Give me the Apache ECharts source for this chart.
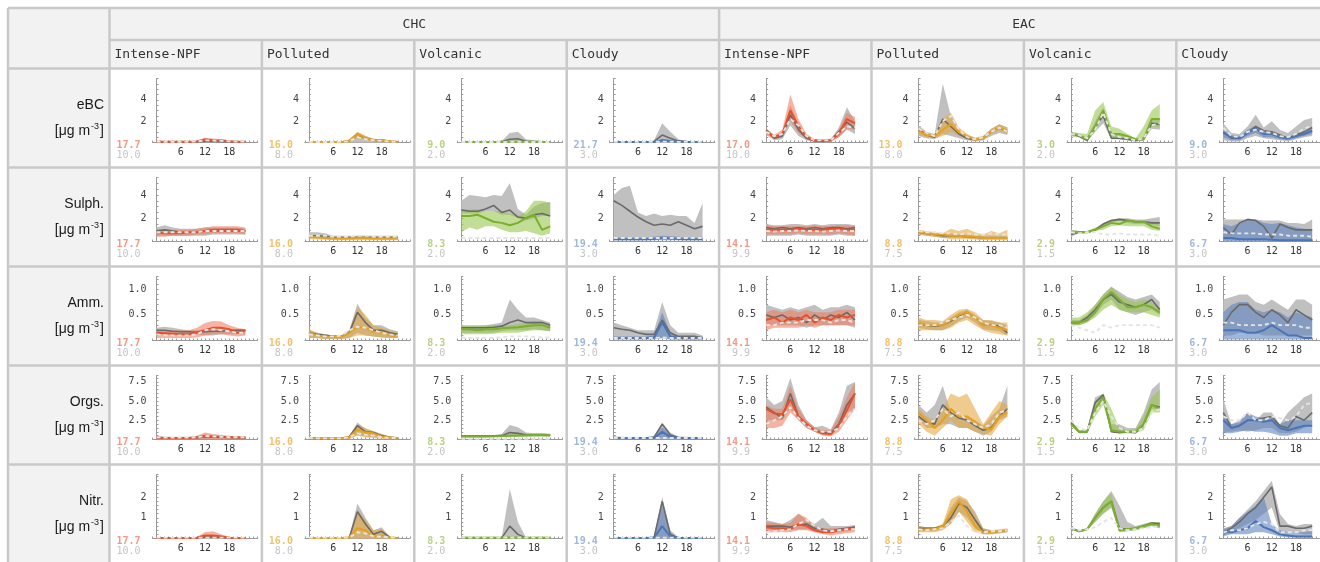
<!DOCTYPE html>
<html><head><meta charset="utf-8">
<script src="https://cdn.jsdelivr.net/npm/echarts/dist/echarts.min.js"></script>
<style>html,body{margin:0;padding:0;background:#fff}#c{width:1320px;height:562px}</style>
</head><body><div id="c"></div>
<script>
// ---------------- data ----------------
const hours = [0,2,4,6,8,10,12,14,16,18,20,22];
const regions = ['CHC','EAC'];
const regimes = ['Intense-NPF','Polluted','Volcanic','Cloudy'];
const species = ['eBC','Sulph.','Amm.','Orgs.','Nitr.'];
const yMax = [6,5.5,1.25,8.33,3.1];
const yTick = [0.5,0.5,0.1,0.5,0.2];
const yLabels = [[2,4],[2,4],[0.5,1.0],[2.5,5.0,7.5],[1,2]];
const yDigits = [0,0,1,1,0];
const xLabels = [6,12,18];
const nColored = [
 [17.7,16.0,9.0,21.7,17.0,13.0,3.0,9.0],
 [17.7,16.0,8.3,19.4,14.1,8.8,2.9,6.7],
 [17.7,16.0,8.3,19.4,14.1,8.8,2.9,6.7],
 [17.7,16.0,8.3,19.4,14.1,8.8,2.9,6.7],
 [17.7,16.0,8.3,19.4,14.1,8.8,2.9,6.7]];
const nGray = [
 [10.0,8.0,2.0,3.0,10.0,8.0,2.0,3.0],
 [10.0,8.0,2.0,3.0,9.9,7.5,1.5,3.0],
 [10.0,8.0,2.0,3.0,9.9,7.5,1.5,3.0],
 [10.0,8.0,2.0,3.0,9.9,7.5,1.5,3.0],
 [10.0,8.0,2.0,3.0,9.9,7.5,1.5,3.0]];

// each cell: gray band (gLo,gHi), gray line g, coloured band (cLo,cHi), coloured line c, dashed d
const eBC = [
 {gLo:[0,0,0,0,0,0,0,0,0,0,0,0], gHi:[0.12,0.1,0.1,0.1,0.1,0.12,0.2,0.18,0.15,0.12,0.12,0.1], g:[0.06,0.05,0.05,0.05,0.05,0.06,0.1,0.09,0.08,0.06,0.06,0.05],
  cLo:[0.02,0.02,0.02,0.02,0.02,0.03,0.08,0.06,0.05,0.04,0.03,0.02], cHi:[0.12,0.1,0.1,0.1,0.12,0.18,0.45,0.38,0.3,0.22,0.15,0.12], c:[0.07,0.06,0.06,0.06,0.07,0.1,0.28,0.22,0.18,0.12,0.09,0.07], d:[0.08,0.07,0.07,0.07,0.08,0.1,0.2,0.18,0.15,0.12,0.1,0.08]},
 {gLo:[0,0,0,0,0,0,0,0,0,0,0,0], gHi:[0.1,0.08,0.06,0.06,0.08,0.25,0.95,0.6,0.35,0.3,0.2,0.12], g:[0.05,0.04,0.03,0.03,0.04,0.15,0.75,0.4,0.2,0.2,0.12,0.06],
  cLo:[0.02,0.02,0.02,0.02,0.02,0.05,0.4,0.2,0.1,0.08,0.05,0.02], cHi:[0.1,0.08,0.06,0.06,0.08,0.3,1.0,0.6,0.35,0.3,0.2,0.1], c:[0.05,0.04,0.04,0.04,0.05,0.15,0.8,0.4,0.22,0.2,0.12,0.06], d:[0.06,0.05,0.05,0.05,0.06,0.12,0.5,0.3,0.2,0.15,0.1,0.06]},
 {gLo:[0,0,0,0,0,0,0,0,0,0,0,0], gHi:[0.1,0.1,0.1,0.1,0.1,0.15,0.9,1.0,0.3,0.2,0.15,0.1], g:[0.05,0.05,0.05,0.05,0.05,0.08,0.3,0.35,0.12,0.08,0.06,0.05],
  cLo:[0.01,0.01,0.01,0.01,0.01,0.01,0.01,0.01,0.01,0.01,0.01,0.01], cHi:[0.1,0.08,0.08,0.08,0.08,0.1,0.15,0.15,0.12,0.1,0.1,0.1], c:[0.05,0.05,0.05,0.05,0.05,0.06,0.08,0.08,0.07,0.06,0.05,0.05], d:[0.05,0.05,0.05,0.05,0.05,0.05,0.06,0.06,0.05,0.05,0.05,0.05]},
 {gLo:[0,0,0,0,0,0,0,0,0,0,0,0], gHi:[0.08,0.06,0.06,0.06,0.06,0.2,1.8,1.0,0.3,0.15,0.1,0.08], g:[0.04,0.03,0.03,0.03,0.03,0.1,0.7,0.4,0.15,0.08,0.05,0.04],
  cLo:[0.01,0.01,0.01,0.01,0.01,0.01,0.02,0.02,0.01,0.01,0.01,0.01], cHi:[0.1,0.08,0.08,0.08,0.08,0.1,0.35,0.25,0.15,0.1,0.1,0.1], c:[0.05,0.04,0.04,0.04,0.04,0.05,0.2,0.12,0.08,0.05,0.05,0.05], d:[0.06,0.06,0.06,0.06,0.06,0.06,0.08,0.08,0.06,0.06,0.06,0.06]},
 {gLo:[0.7,0.2,0.3,1.6,0.6,0.2,0.05,0.05,0.1,0.5,1.2,0.8], gHi:[1.3,0.7,0.9,3.5,1.8,0.7,0.3,0.25,0.3,1.4,3.3,2.0], g:[1.2,0.4,0.6,2.6,1.2,0.4,0.15,0.1,0.2,1.0,1.9,1.3],
  cLo:[0.8,0.3,0.5,2.0,0.9,0.3,0.1,0.05,0.1,0.5,1.3,1.2], cHi:[1.3,0.7,1.2,4.5,2.2,0.8,0.3,0.3,0.35,1.2,2.8,2.4], c:[1.1,0.5,0.8,3.0,1.5,0.5,0.2,0.15,0.2,0.8,2.2,1.8], d:[1.0,0.6,0.8,2.2,1.6,0.6,0.2,0.2,0.2,0.9,1.5,1.4]},
 {gLo:[0.6,0.4,0.3,0.8,0.6,0.4,0.2,0.1,0.2,0.6,0.9,0.7], gHi:[1.6,1.0,0.8,5.5,2.5,1.2,0.7,0.4,0.6,1.3,1.7,1.4], g:[1.2,0.7,0.5,2.2,1.5,0.8,0.4,0.25,0.4,1.0,1.4,1.0],
  cLo:[0.7,0.5,0.4,0.6,1.0,0.6,0.3,0.15,0.25,0.8,1.1,0.8], cHi:[1.4,0.9,0.8,2.2,2.8,1.4,0.8,0.45,0.6,1.3,1.7,1.4], c:[1.1,0.7,0.6,1.2,1.7,1.0,0.6,0.3,0.4,1.0,1.4,1.1], d:[1.3,0.9,0.6,2.0,2.5,1.2,0.5,0.3,0.5,1.0,1.4,1.0]},
 {gLo:[0.6,0.5,0.1,1.0,1.8,0.3,0.3,0.2,0.1,0.2,1.3,1.2], gHi:[0.9,0.8,0.5,2.0,3.3,0.8,0.8,0.5,0.3,0.5,2.3,2.2], g:[0.8,0.6,0.2,1.5,2.5,0.4,0.4,0.3,0.2,0.3,1.8,1.7],
  cLo:[0.6,0.5,0.1,1.0,2.5,0.4,0.3,0.2,0.1,0.2,1.5,1.4], cHi:[1.0,0.9,0.8,3.0,3.8,1.5,1.3,0.8,0.4,1.5,3.0,3.6], c:[0.8,0.7,0.3,1.5,3.0,0.8,0.8,0.6,0.3,0.3,2.2,2.2], d:[0.8,0.7,0.4,1.2,2.8,0.8,0.5,0.4,0.2,0.4,1.6,1.8]},
 {gLo:[0.2,0.1,0.1,0.4,0.6,0.4,0.3,0.2,0.1,0.3,0.5,0.6], gHi:[1.8,0.9,0.8,1.5,2.6,1.4,2.0,1.2,0.9,1.5,2.1,2.3], g:[1.0,0.4,0.4,0.9,1.5,1.1,1.0,0.7,0.4,0.7,1.0,1.4],
  cLo:[0.5,0.2,0.2,0.6,0.9,0.5,0.5,0.3,0.2,0.4,0.6,0.8], cHi:[1.1,0.7,0.6,1.2,1.6,1.1,1.0,0.7,0.5,0.8,1.0,1.3], c:[0.9,0.5,0.4,0.9,1.3,0.8,0.8,0.5,0.4,0.6,0.8,1.1], d:[1.4,0.6,0.5,1.0,1.2,1.0,0.9,0.6,0.5,0.8,1.3,1.6]}
];
const Sulph = [
 {gLo:[0.5,0.5,0.5,0.5,0.5,0.5,0.5,0.6,0.6,0.6,0.6,0.6], gHi:[1.2,1.4,1.2,1.1,1.1,1.1,1.2,1.2,1.2,1.2,1.2,1.1], g:[0.9,1.0,0.9,0.8,0.8,0.8,0.9,0.9,0.9,0.9,0.9,0.9],
  cLo:[0.4,0.4,0.5,0.5,0.5,0.6,0.6,0.7,0.7,0.7,0.7,0.6], cHi:[1.1,1.0,1.0,1.0,1.0,1.1,1.2,1.3,1.3,1.3,1.3,1.2], c:[0.8,0.7,0.7,0.7,0.8,0.8,0.9,1.0,1.0,1.0,1.0,0.9], d:[0.8,0.8,0.8,0.8,0.8,0.8,0.9,0.9,0.9,0.9,0.9,0.9]},
 {gLo:[0.3,0.3,0.25,0.2,0.2,0.2,0.2,0.2,0.2,0.2,0.2,0.2], gHi:[0.8,0.8,0.7,0.5,0.5,0.5,0.5,0.5,0.5,0.5,0.5,0.5], g:[0.5,0.5,0.45,0.35,0.35,0.35,0.35,0.35,0.35,0.35,0.35,0.35],
  cLo:[0.2,0.2,0.15,0.1,0.1,0.1,0.1,0.1,0.1,0.1,0.1,0.1], cHi:[0.6,0.5,0.5,0.4,0.4,0.4,0.5,0.5,0.4,0.4,0.4,0.4], c:[0.4,0.35,0.3,0.25,0.25,0.25,0.3,0.3,0.25,0.25,0.25,0.25], d:[0.5,0.5,0.5,0.4,0.4,0.4,0.5,0.5,0.4,0.4,0.4,0.4]},
 {gLo:[2.4,2.4,2.4,2.6,2.6,2.3,2.3,2.0,1.8,2.0,2.2,2.2], gHi:[3.5,4.0,3.9,3.8,4.0,3.9,5.0,2.8,2.3,3.0,3.3,3.4], g:[2.7,2.6,2.6,2.8,3.1,2.5,2.7,2.1,2.0,2.3,2.4,2.2],
  cLo:[0.8,1.2,1.0,1.3,1.3,1.0,0.8,0.8,0.9,0.7,0.5,0.7], cHi:[2.8,2.8,2.8,2.6,2.6,2.6,2.4,2.2,2.6,3.5,3.5,3.3], c:[2.2,2.2,2.3,2.0,1.7,1.6,1.4,1.6,2.0,2.3,1.0,1.3], d:[0.3,0.3,0.3,0.3,0.3,0.3,0.3,0.3,0.3,0.3,0.3,0.3]},
 {gLo:[0.3,0.3,0.3,0.3,0.3,0.3,0.3,0.3,0.3,0.3,0.3,0.3], gHi:[4.0,4.6,4.8,2.5,2.2,2.4,2.2,2.3,2.2,2.2,1.6,3.3], g:[3.5,3.1,2.6,2.1,1.7,1.4,1.5,1.4,1.7,1.4,1.1,1.3],
  cLo:[0.1,0.1,0.1,0.1,0.1,0.1,0.1,0.1,0.1,0.1,0.1,0.1], cHi:[0.35,0.35,0.35,0.35,0.35,0.4,0.5,0.45,0.4,0.35,0.35,0.35], c:[0.2,0.2,0.2,0.2,0.2,0.22,0.3,0.25,0.22,0.2,0.2,0.2], d:[0.3,0.3,0.3,0.3,0.3,0.3,0.3,0.3,0.3,0.3,0.3,0.3]},
 {gLo:[0.5,0.5,0.5,0.5,0.6,0.5,0.5,0.5,0.5,0.6,0.5,0.5], gHi:[1.5,1.4,1.4,1.5,1.5,1.4,1.5,1.4,1.5,1.5,1.5,1.4], g:[1.2,1.1,1.2,1.1,1.2,1.1,1.2,1.1,1.2,1.2,1.1,1.2],
  cLo:[0.6,0.6,0.6,0.6,0.7,0.6,0.6,0.6,0.6,0.7,0.6,0.5], cHi:[1.4,1.3,1.3,1.3,1.3,1.3,1.4,1.3,1.3,1.4,1.4,1.3], c:[1.0,1.0,1.0,1.0,1.1,1.0,1.0,1.0,1.1,1.1,1.0,1.0], d:[0.9,0.85,0.9,0.9,0.95,0.9,0.9,0.85,0.9,0.95,0.9,0.9]},
 {gLo:[0.6,0.5,0.4,0.3,0.3,0.3,0.3,0.2,0.2,0.2,0.2,0.2], gHi:[0.9,0.8,0.7,0.6,0.7,0.6,0.6,0.5,0.5,0.5,0.5,0.5], g:[0.8,0.7,0.6,0.5,0.5,0.5,0.4,0.4,0.3,0.3,0.3,0.3],
  cLo:[0.6,0.5,0.4,0.3,0.2,0.2,0.2,0.2,0.1,0.1,0.1,0.1], cHi:[1.0,0.9,0.8,0.7,1.1,0.9,1.1,0.8,0.6,0.9,0.7,1.0], c:[0.8,0.7,0.6,0.6,0.5,0.5,0.4,0.4,0.3,0.3,0.3,0.3], d:[0.9,0.8,0.8,0.7,0.7,0.6,0.7,0.6,0.6,0.7,0.6,0.6]},
 {gLo:[0.4,0.7,0.7,0.9,1.4,1.6,1.8,1.6,1.5,1.5,1.4,1.3], gHi:[1.0,0.9,0.9,1.1,1.6,1.9,2.0,2.0,1.9,1.9,2.0,2.1], g:[0.6,0.8,0.8,1.0,1.5,1.8,1.9,1.8,1.7,1.7,1.6,1.6],
  cLo:[0.6,0.7,0.7,0.9,1.0,1.3,1.4,1.3,1.3,1.3,1.0,0.9], cHi:[1.0,0.9,0.9,1.2,1.5,1.8,1.9,1.9,1.8,1.8,1.7,1.6], c:[0.8,0.8,0.8,1.0,1.3,1.6,1.5,1.8,1.7,1.7,1.3,1.1], d:[0.8,0.7,0.8,0.8,0.6,0.6,0.7,0.6,0.6,0.6,0.6,0.5]},
 {gLo:[0.1,0.1,0.1,0.1,0.1,0.1,0.1,0.1,0.1,0.1,0.1,0.1], gHi:[1.9,1.9,1.9,1.9,1.9,1.8,1.8,1.8,1.6,1.6,1.5,1.9], g:[1.2,0.6,1.6,1.9,1.8,1.3,0.3,1.5,1.2,1.0,1.0,1.0],
  cLo:[0.05,0.05,0.05,0.05,0.05,0.05,0.05,0.05,0.05,0.05,0.05,0.05], cHi:[1.5,1.3,1.6,1.9,1.9,1.6,1.5,1.6,1.4,1.2,1.1,1.0], c:[0.3,0.3,0.2,0.2,0.2,0.2,0.15,0.1,0.1,0.1,0.1,0.1], d:[0.8,0.7,0.7,0.7,0.7,0.6,0.6,0.6,0.5,0.5,0.5,0.4]}
];
const Amm = [
 {gLo:[0.12,0.12,0.12,0.12,0.12,0.12,0.1,0.1,0.12,0.12,0.12,0.12], gHi:[0.25,0.27,0.25,0.22,0.2,0.2,0.22,0.22,0.2,0.22,0.22,0.22], g:[0.2,0.2,0.18,0.17,0.17,0.16,0.17,0.18,0.18,0.2,0.2,0.2],
  cLo:[0.05,0.05,0.05,0.05,0.05,0.06,0.1,0.12,0.12,0.1,0.08,0.1], cHi:[0.2,0.2,0.2,0.2,0.2,0.25,0.34,0.38,0.37,0.3,0.25,0.22], c:[0.15,0.14,0.13,0.12,0.12,0.15,0.2,0.25,0.25,0.22,0.15,0.2], d:[0.12,0.1,0.1,0.1,0.1,0.12,0.2,0.22,0.2,0.18,0.15,0.15]},
 {gLo:[0.05,0.05,0.03,0.03,0.03,0.05,0.15,0.1,0.08,0.06,0.05,0.05], gHi:[0.2,0.15,0.12,0.1,0.1,0.2,0.72,0.45,0.3,0.3,0.22,0.18], g:[0.15,0.12,0.1,0.08,0.08,0.15,0.55,0.35,0.2,0.2,0.15,0.12],
  cLo:[0.05,0.05,0.03,0.03,0.03,0.05,0.1,0.1,0.08,0.06,0.05,0.05], cHi:[0.22,0.15,0.12,0.1,0.1,0.2,0.65,0.5,0.3,0.25,0.2,0.15], c:[0.15,0.1,0.08,0.07,0.07,0.15,0.27,0.25,0.17,0.15,0.1,0.08], d:[0.12,0.1,0.08,0.08,0.1,0.2,0.27,0.25,0.2,0.15,0.12,0.1]},
 {gLo:[0.15,0.15,0.15,0.15,0.15,0.18,0.2,0.2,0.2,0.22,0.2,0.18], gHi:[0.3,0.3,0.3,0.3,0.32,0.35,0.8,0.6,0.45,0.45,0.4,0.35], g:[0.25,0.25,0.25,0.25,0.26,0.28,0.35,0.4,0.35,0.35,0.35,0.3],
  cLo:[0.12,0.12,0.12,0.12,0.13,0.15,0.15,0.15,0.18,0.2,0.2,0.18], cHi:[0.28,0.28,0.28,0.3,0.3,0.3,0.3,0.32,0.35,0.38,0.38,0.3], c:[0.22,0.22,0.2,0.22,0.22,0.24,0.25,0.26,0.28,0.3,0.3,0.25], d:[0.06,0.05,0.05,0.05,0.05,0.06,0.08,0.08,0.08,0.07,0.06,0.06]},
 {gLo:[0.05,0.05,0.04,0.03,0.03,0.03,0.05,0.03,0.02,0.02,0.02,0.02], gHi:[0.35,0.3,0.25,0.2,0.2,0.2,0.75,0.3,0.15,0.15,0.15,0.1], g:[0.25,0.22,0.2,0.15,0.12,0.12,0.4,0.15,0.08,0.08,0.08,0.05],
  cLo:[0.02,0.02,0.02,0.02,0.02,0.02,0.05,0.02,0.02,0.02,0.02,0.02], cHi:[0.08,0.08,0.08,0.08,0.08,0.1,0.55,0.15,0.08,0.08,0.08,0.08], c:[0.05,0.05,0.05,0.05,0.05,0.06,0.35,0.08,0.05,0.05,0.05,0.05], d:[0.05,0.05,0.05,0.05,0.05,0.05,0.06,0.05,0.05,0.05,0.05,0.05]},
 {gLo:[0.3,0.3,0.3,0.3,0.3,0.25,0.3,0.3,0.3,0.3,0.3,0.25], gHi:[0.7,0.65,0.6,0.65,0.6,0.65,0.7,0.6,0.65,0.65,0.7,0.65], g:[0.5,0.45,0.5,0.4,0.45,0.35,0.5,0.4,0.5,0.45,0.55,0.4],
  cLo:[0.2,0.25,0.25,0.25,0.25,0.3,0.25,0.3,0.3,0.3,0.3,0.3], cHi:[0.55,0.6,0.55,0.6,0.55,0.6,0.55,0.55,0.55,0.6,0.6,0.6], c:[0.4,0.45,0.35,0.45,0.4,0.5,0.35,0.45,0.4,0.5,0.45,0.5], d:[0.3,0.3,0.35,0.35,0.35,0.4,0.4,0.4,0.35,0.4,0.4,0.35]},
 {gLo:[0.25,0.22,0.2,0.2,0.28,0.38,0.45,0.35,0.22,0.2,0.18,0.1], gHi:[0.4,0.38,0.35,0.35,0.45,0.55,0.6,0.5,0.4,0.38,0.35,0.3], g:[0.32,0.3,0.28,0.3,0.38,0.48,0.55,0.45,0.3,0.3,0.28,0.15],
  cLo:[0.2,0.2,0.2,0.2,0.25,0.35,0.4,0.3,0.2,0.15,0.12,0.1], cHi:[0.45,0.4,0.4,0.38,0.5,0.6,0.62,0.55,0.4,0.4,0.35,0.35], c:[0.35,0.3,0.3,0.3,0.4,0.5,0.55,0.45,0.3,0.3,0.25,0.2], d:[0.3,0.3,0.3,0.35,0.4,0.45,0.5,0.45,0.35,0.3,0.3,0.25]},
 {gLo:[0.3,0.3,0.35,0.5,0.7,0.8,0.6,0.55,0.5,0.55,0.6,0.5], gHi:[0.4,0.4,0.5,0.7,0.9,1.05,0.95,0.85,0.8,0.85,0.9,0.75], g:[0.35,0.35,0.45,0.6,0.8,0.9,0.75,0.7,0.65,0.7,0.8,0.6],
  cLo:[0.3,0.3,0.35,0.45,0.6,0.7,0.6,0.55,0.55,0.55,0.5,0.45], cHi:[0.45,0.45,0.55,0.7,0.9,1.05,0.9,0.8,0.75,0.8,0.75,0.65], c:[0.35,0.35,0.4,0.55,0.8,0.95,0.8,0.65,0.65,0.7,0.65,0.55], d:[0.3,0.25,0.2,0.15,0.3,0.25,0.3,0.3,0.3,0.3,0.3,0.25]},
 {gLo:[0.1,0.1,0.15,0.15,0.15,0.1,0.1,0.1,0.1,0.1,0.1,0.1], gHi:[0.8,0.85,0.9,0.9,0.75,0.7,0.8,0.7,0.6,0.8,0.8,0.7], g:[0.3,0.55,0.7,0.7,0.55,0.45,0.6,0.5,0.35,0.6,0.5,0.4],
  cLo:[0.02,0.02,0.02,0.02,0.02,0.02,0.02,0.02,0.02,0.02,0.02,0.02], cHi:[0.55,0.7,0.75,0.75,0.6,0.55,0.6,0.55,0.45,0.55,0.5,0.45], c:[0.2,0.2,0.2,0.15,0.15,0.2,0.3,0.2,0.1,0.1,0.05,0.05], d:[0.35,0.35,0.3,0.3,0.3,0.3,0.35,0.3,0.3,0.3,0.25,0.25]}
];
const Orgs = [
 {gLo:[0.1,0.1,0.1,0.1,0.1,0.1,0.1,0.1,0.1,0.1,0.1,0.1], gHi:[0.4,0.35,0.35,0.35,0.35,0.4,0.6,0.5,0.45,0.4,0.4,0.4], g:[0.25,0.22,0.22,0.22,0.22,0.25,0.35,0.3,0.3,0.28,0.25,0.25],
  cLo:[0.05,0.05,0.05,0.05,0.05,0.05,0.05,0.05,0.05,0.05,0.05,0.05], cHi:[0.4,0.3,0.3,0.3,0.3,0.5,0.9,0.7,0.6,0.5,0.4,0.4], c:[0.25,0.2,0.2,0.2,0.2,0.3,0.5,0.4,0.35,0.3,0.25,0.25], d:[0.3,0.25,0.25,0.25,0.25,0.3,0.45,0.4,0.35,0.3,0.3,0.3]},
 {gLo:[0.05,0.05,0.05,0.05,0.05,0.1,0.6,0.4,0.3,0.2,0.1,0.05], gHi:[0.3,0.2,0.2,0.2,0.2,0.5,2.2,1.4,1.1,0.7,0.4,0.3], g:[0.2,0.15,0.15,0.15,0.15,0.35,1.8,1.0,0.9,0.5,0.3,0.2],
  cLo:[0.05,0.05,0.05,0.05,0.05,0.05,0.5,0.3,0.2,0.1,0.05,0.05], cHi:[0.3,0.2,0.2,0.2,0.2,0.5,2.0,1.5,1.0,0.7,0.4,0.3], c:[0.2,0.15,0.15,0.15,0.15,0.3,1.3,0.9,0.8,0.4,0.25,0.2], d:[0.2,0.15,0.15,0.15,0.15,0.3,0.8,0.6,0.5,0.3,0.2,0.2]},
 {gLo:[0.3,0.3,0.3,0.3,0.3,0.35,0.4,0.4,0.4,0.4,0.4,0.4], gHi:[0.6,0.6,0.6,0.6,0.6,0.7,1.9,1.6,0.9,0.8,0.8,0.7], g:[0.45,0.45,0.45,0.45,0.45,0.5,0.9,0.8,0.6,0.6,0.6,0.55],
  cLo:[0.25,0.25,0.25,0.25,0.3,0.3,0.3,0.35,0.35,0.4,0.4,0.35], cHi:[0.55,0.55,0.55,0.55,0.55,0.6,0.65,0.7,0.75,0.8,0.8,0.75], c:[0.4,0.4,0.4,0.4,0.42,0.45,0.5,0.52,0.55,0.6,0.6,0.55], d:[0.1,0.1,0.1,0.1,0.1,0.1,0.1,0.1,0.1,0.1,0.1,0.1]},
 {gLo:[0.1,0.1,0.1,0.1,0.1,0.1,0.3,0.15,0.1,0.1,0.1,0.1], gHi:[0.4,0.35,0.3,0.3,0.3,0.5,2.2,0.9,0.4,0.35,0.3,0.3], g:[0.25,0.2,0.2,0.2,0.2,0.3,2.0,0.6,0.25,0.2,0.2,0.2],
  cLo:[0.05,0.05,0.05,0.05,0.05,0.05,0.05,0.05,0.05,0.05,0.05,0.05], cHi:[0.3,0.3,0.3,0.3,0.3,0.4,1.6,0.6,0.3,0.3,0.3,0.3], c:[0.2,0.15,0.15,0.15,0.15,0.2,1.0,0.35,0.2,0.15,0.15,0.15], d:[0.2,0.2,0.2,0.2,0.2,0.2,0.2,0.2,0.2,0.2,0.2,0.2]},
 {gLo:[2.5,2.5,2.5,4.0,2.5,1.5,1.0,0.6,0.5,1.5,3.5,4.0], gHi:[5.5,4.5,5.0,8.0,4.5,2.5,1.6,1.8,1.3,3.5,7.0,7.5], g:[4.2,3.5,2.8,6.0,3.0,2.0,1.2,0.9,0.8,2.0,4.5,6.0],
  cLo:[1.5,1.5,1.8,3.5,2.5,1.5,1.0,0.5,0.4,1.0,2.5,4.0], cHi:[4.5,4.0,4.0,7.0,4.0,2.5,1.6,1.2,1.2,3.0,5.5,7.5], c:[4.0,3.4,3.3,5.2,3.0,2.0,1.2,0.8,0.7,1.8,3.8,6.0], d:[2.0,2.5,3.0,4.2,2.8,1.8,1.2,1.0,1.0,1.5,3.0,4.0]},
 {gLo:[2.5,1.5,1.5,2.0,2.0,1.5,1.5,1.0,0.5,1.0,2.5,3.0], gHi:[4.5,3.5,4.5,7.0,3.5,3.0,3.0,2.5,1.8,3.0,4.0,7.0], g:[3.0,2.2,2.0,4.5,3.5,2.8,2.5,1.8,1.2,1.5,3.0,4.0],
  cLo:[2.0,1.0,0.5,1.5,2.5,1.5,1.5,1.0,0.7,0.5,2.0,3.0], cHi:[4.0,3.0,2.5,4.0,6.0,5.5,6.0,4.0,2.0,3.5,5.0,4.5], c:[3.5,2.5,1.5,2.5,4.0,3.0,3.0,2.3,1.5,1.3,3.0,3.5], d:[2.5,2.0,2.5,4.0,3.0,3.5,2.5,2.0,1.5,2.0,3.5,3.8]},
 {gLo:[2.0,0.8,0.8,3.5,5.0,1.0,0.8,0.8,0.8,1.5,4.0,3.8], gHi:[2.5,1.2,1.2,5.5,6.0,2.0,2.0,1.5,1.5,3.5,6.5,7.5], g:[2.2,1.0,1.0,4.8,5.8,1.0,0.9,1.0,0.9,2.0,4.5,4.2],
  cLo:[1.8,0.8,0.8,3.0,4.5,1.0,0.8,0.8,0.8,1.2,3.5,3.5], cHi:[2.5,1.2,1.2,5.0,6.0,4.0,1.5,1.2,1.3,3.0,5.5,6.5], c:[2.0,1.0,1.0,4.0,5.5,1.2,1.0,1.0,1.0,2.0,4.5,4.0], d:[2.5,1.5,1.2,3.5,5.0,3.0,1.5,1.0,1.0,1.5,3.5,4.0]},
 {gLo:[1.0,1.0,1.2,1.0,1.2,1.5,1.5,0.8,0.8,1.0,1.5,2.0], gHi:[5.2,2.0,2.5,3.5,2.5,3.5,3.5,2.0,3.5,4.5,5.5,6.0], g:[3.5,1.5,1.8,2.5,2.5,2.8,3.0,1.8,1.5,3.0,2.5,3.5],
  cLo:[0.8,0.8,1.0,1.2,1.0,1.0,0.8,0.5,0.5,0.8,0.8,0.8], cHi:[3.2,2.0,2.2,3.5,3.0,2.8,2.8,2.0,2.5,2.5,2.5,2.5], c:[2.5,1.5,1.8,2.5,2.5,2.3,2.5,1.5,1.2,1.5,1.8,1.8], d:[3.0,2.5,2.5,3.5,2.5,2.5,3.0,2.8,2.5,3.0,4.5,4.8]}
];
const Nitr = [
 {gLo:[0,0,0,0,0,0,0,0,0,0,0,0], gHi:[0.06,0.05,0.05,0.05,0.05,0.06,0.15,0.15,0.1,0.06,0.05,0.05], g:[0.03,0.03,0.03,0.03,0.03,0.03,0.08,0.08,0.05,0.03,0.03,0.03],
  cLo:[0.01,0.01,0.01,0.01,0.01,0.01,0.01,0.01,0.01,0.01,0.01,0.01], cHi:[0.06,0.05,0.05,0.05,0.05,0.08,0.3,0.35,0.2,0.08,0.06,0.05], c:[0.03,0.03,0.03,0.03,0.03,0.04,0.15,0.15,0.1,0.04,0.03,0.03], d:[0.04,0.04,0.04,0.04,0.04,0.04,0.04,0.04,0.04,0.04,0.04,0.04]},
 {gLo:[0,0,0,0,0,0,0,0,0,0,0,0], gHi:[0.05,0.05,0.05,0.05,0.05,0.1,1.7,1.0,0.4,0.55,0.1,0.05], g:[0.03,0.03,0.03,0.03,0.03,0.05,1.3,0.7,0.2,0.35,0.05,0.03],
  cLo:[0,0,0,0,0,0,0,0,0,0,0,0], cHi:[0.05,0.05,0.05,0.05,0.05,0.1,1.4,0.9,0.4,0.45,0.1,0.05], c:[0.03,0.03,0.03,0.03,0.03,0.05,0.5,0.4,0.1,0.15,0.05,0.03], d:[0.04,0.04,0.04,0.04,0.04,0.05,0.3,0.25,0.1,0.1,0.05,0.04]},
 {gLo:[0,0,0,0,0,0,0,0,0,0,0,0], gHi:[0.05,0.05,0.05,0.05,0.05,0.05,2.4,0.8,0.05,0.05,0.05,0.05], g:[0.03,0.03,0.03,0.03,0.03,0.03,0.6,0.2,0.03,0.03,0.03,0.03],
  cLo:[0.01,0.01,0.01,0.01,0.01,0.01,0.01,0.01,0.01,0.01,0.01,0.01], cHi:[0.08,0.08,0.08,0.08,0.08,0.08,0.1,0.1,0.08,0.08,0.08,0.08], c:[0.04,0.04,0.04,0.04,0.04,0.04,0.05,0.05,0.04,0.04,0.04,0.04], d:[0.05,0.05,0.05,0.05,0.05,0.05,0.05,0.05,0.05,0.05,0.05,0.05]},
 {gLo:[0,0,0,0,0,0,0,0,0,0,0,0], gHi:[0.05,0.05,0.05,0.05,0.05,0.1,2.0,0.4,0.05,0.05,0.05,0.05], g:[0.03,0.03,0.03,0.03,0.03,0.05,1.8,0.2,0.03,0.03,0.03,0.03],
  cLo:[0,0,0,0,0,0,0,0,0,0,0,0], cHi:[0.05,0.05,0.05,0.05,0.05,0.1,1.6,0.3,0.05,0.05,0.05,0.05], c:[0.02,0.02,0.02,0.02,0.02,0.05,0.6,0.1,0.02,0.02,0.02,0.02], d:[0.04,0.04,0.04,0.04,0.04,0.04,0.04,0.04,0.04,0.04,0.04,0.04]},
 {gLo:[0.4,0.4,0.4,0.4,0.45,0.45,0.35,0.3,0.25,0.3,0.35,0.4], gHi:[0.9,0.8,0.7,0.9,1.2,0.9,0.7,1.0,0.6,0.6,0.6,0.65], g:[0.6,0.6,0.6,0.55,0.65,0.7,0.5,0.45,0.35,0.45,0.5,0.55],
  cLo:[0.3,0.3,0.3,0.3,0.4,0.4,0.3,0.2,0.15,0.2,0.25,0.3], cHi:[0.8,0.75,0.7,0.75,1.2,1.0,0.6,0.5,0.5,0.5,0.55,0.6], c:[0.55,0.5,0.5,0.45,0.7,0.6,0.4,0.3,0.3,0.4,0.45,0.5], d:[0.3,0.35,0.4,0.45,0.7,0.9,0.6,0.4,0.35,0.4,0.45,0.45]},
 {gLo:[0.35,0.35,0.35,0.45,0.7,1.3,1.0,0.5,0.2,0.2,0.25,0.3], gHi:[0.6,0.55,0.55,0.65,1.5,2.0,1.8,1.3,0.5,0.4,0.4,0.45], g:[0.5,0.5,0.5,0.6,1.0,1.7,1.5,0.9,0.35,0.3,0.35,0.4],
  cLo:[0.3,0.3,0.3,0.4,0.7,1.3,0.8,0.3,0.2,0.2,0.25,0.3], cHi:[0.6,0.55,0.55,0.7,1.9,2.1,1.9,1.2,0.5,0.4,0.45,0.5], c:[0.4,0.45,0.45,0.6,1.2,1.8,1.3,0.6,0.3,0.3,0.35,0.4], d:[0.45,0.4,0.45,0.5,0.8,1.1,0.6,0.3,0.3,0.35,0.35,0.4]},
 {gLo:[0.45,0.3,0.4,0.8,1.2,1.5,0.3,0.35,0.4,0.5,0.6,0.5], gHi:[0.55,0.4,0.5,1.2,1.8,2.3,1.6,0.8,0.6,0.7,0.8,0.8], g:[0.5,0.35,0.45,1.0,1.5,1.8,0.5,0.45,0.5,0.6,0.75,0.7],
  cLo:[0.45,0.3,0.4,0.8,1.2,1.5,0.35,0.35,0.4,0.5,0.6,0.5], cHi:[0.55,0.4,0.5,1.2,1.8,2.2,0.5,0.5,0.55,0.7,0.8,0.8], c:[0.5,0.35,0.45,1.0,1.5,1.8,0.4,0.45,0.5,0.6,0.7,0.6], d:[0.5,0.4,0.45,0.55,0.8,1.0,0.5,0.4,0.45,0.5,0.55,0.6]},
 {gLo:[0.2,0.3,0.5,0.7,0.9,1.2,1.5,0.3,0.3,0.3,0.2,0.2], gHi:[0.5,0.6,1.0,1.4,1.8,2.3,2.8,1.2,0.7,0.6,0.7,0.7], g:[0.3,0.5,0.8,1.2,1.5,2.0,2.5,0.6,0.6,0.5,0.5,0.6],
  cLo:[0.1,0.2,0.2,0.2,0.3,0.3,0.2,0.1,0.05,0.05,0.05,0.05], cHi:[0.45,0.6,1.0,1.3,1.6,2.0,0.7,0.4,0.3,0.3,0.3,0.4], c:[0.3,0.3,0.4,0.5,0.85,0.55,0.4,0.2,0.15,0.1,0.1,0.1], d:[0.3,0.4,0.4,0.5,0.7,0.8,0.7,0.3,0.3,0.3,0.4,0.4]}
];
const tableRows = [eBC, Sulph, Amm, Orgs, Nitr];

// ---------------- styling ----------------
const lineColor = ['#e8502c','#e6a11c','#7aae2e','#4a74b6'];
const bandColor = ['#ef7c5e','#e3a53c','#94c44a','#5a82bf'];
const numColor  = ['#f39a85','#f3c169','#b7d283','#9fb7dd'];
const MONO = '"DejaVu Sans Mono", monospace';
const SANS = '"Liberation Sans", Arial, sans-serif';
const CL = 109.5, CW = 152.4, RT = 68.5, RH = 99, BORDER = '#c9c9c9';

const grids = [], xAxes = [], yAxes = [], series = [], graphic = [];
const pts = arr => hours.map((h, i) => [h, arr[i]]);
const near = (v, list) => list.some(t => Math.abs(v - t) < 1e-6);

// a band drawn as one polygon through the axes' scales
function bandSeries(k, lo, hi, fill, opacity) {
  return {type: 'custom', xAxisIndex: k, yAxisIndex: k, silent: true, animation: false,
    data: pts(hi), encode: {x: 0, y: 1},
    renderItem: (params, api) => {
      if (params.dataIndex !== 0) return null;
      const top = hours.map((h, i) => api.coord([h, hi[i]]));
      const bot = hours.map((h, i) => api.coord([h, lo[i]])).reverse();
      return {type: 'polygon', shape: {points: top.concat(bot)}, style: {fill: fill, opacity: opacity, stroke: null}};
    }};
}

tableRows.forEach((cells, r) => {
  cells.forEach((cell, ci) => {
    const k = grids.length;
    const reg = ci % 4;
    const cx = CL + ci * CW, ry = RT + r * RH;
    grids.push({left: cx + 43, top: ry + 10, width: 105, height: 64, outerBoundsMode: 'none', containLabel: false});
    xAxes.push({type: 'value', gridIndex: k, min: -1, max: 25, interval: 1,
      axisLine: {lineStyle: {color: '#9a9a9a', width: 1}},
      axisTick: {show: true, inside: true, length: 2, lineStyle: {color: '#9a9a9a'}},
      splitLine: {show: false},
      axisLabel: {margin: 5, fontFamily: MONO, fontSize: 10, color: '#333',
        formatter: v => near(v, xLabels) ? String(Math.round(v)) : ''}});
    yAxes.push({type: 'value', gridIndex: k, min: 0, max: yMax[r], interval: yTick[r],
      axisLine: {show: true, lineStyle: {color: '#9a9a9a', width: 1}},
      axisTick: {show: true, inside: true, length: 2, lineStyle: {color: '#9a9a9a'}},
      splitLine: {show: false},
      axisLabel: {margin: 6, fontFamily: MONO, fontSize: 10, color: '#444',
        formatter: v => near(v, yLabels[r]) ? v.toFixed(yDigits[r]) : ''}});
    const common = {type: 'line', xAxisIndex: k, yAxisIndex: k, symbol: 'none', silent: true, animation: false};
    series.push(bandSeries(k, cell.gLo, cell.gHi, '#c0c0c0', 1));
    series.push(Object.assign({}, common, {data: pts(cell.g), lineStyle: {color: '#6a6a6a', width: 1.6}}));
    series.push(bandSeries(k, cell.cLo, cell.cHi, bandColor[reg], 0.58));
    series.push(Object.assign({}, common, {data: pts(cell.c), lineStyle: {color: lineColor[reg], width: 2}}));
    series.push(Object.assign({}, common, {data: pts(cell.d), lineStyle: {color: '#e4e4e4', width: 1.9, type: [4, 3]}}));
    graphic.push({type: 'text', x: cx + 31, y: ry + 77, style: {text: nColored[r][ci].toFixed(1), fontFamily: MONO, fontSize: 10, fontWeight: 'bold',
      fill: numColor[reg], align: 'right', verticalAlign: 'middle'}});
    graphic.push({type: 'text', x: cx + 31, y: ry + 87, style: {text: nGray[r][ci].toFixed(1), fontFamily: MONO, fontSize: 10,
      fill: '#c4c4c4', align: 'right', verticalAlign: 'middle'}});
  });
});

// table backgrounds and borders
graphic.unshift({type: 'rect', shape: {x: 8, y: 8, width: 1320, height: 60.5}, style: {fill: '#f2f2f2'}, z: -5});
graphic.unshift({type: 'rect', shape: {x: 8, y: 68.5, width: 101.5, height: 500}, style: {fill: '#f2f2f2'}, z: -5});
const hl = (x1, y1, x2, y2) => graphic.push({type: 'line', shape: {x1, y1, x2, y2}, style: {stroke: BORDER, lineWidth: 2.5}, z: 60});
hl(8, 8, 1330, 8);
hl(109.5, 40, 1330, 40);
for (let r = 0; r <= 5; r++) hl(8, RT + r * RH, 1330, RT + r * RH);
hl(8, 8, 8, 570);
hl(109.5, 8, 109.5, 570);
for (let i = 1; i < 8; i++) hl(CL + i * CW, i === 4 ? 8 : 40, CL + i * CW, 570);
regions.forEach((t, i) => graphic.push({type: 'text', x: CL + (i * 4 + 2) * CW, y: 24.5,
  style: {text: t, fontFamily: MONO, fontSize: 13, fill: '#333', align: 'center', verticalAlign: 'middle'}, z: 61}));
for (let i = 0; i < 8; i++) graphic.push({type: 'text', x: CL + i * CW + 5, y: 54.5,
  style: {text: regimes[i % 4], fontFamily: MONO, fontSize: 13, fill: '#333', align: 'left', verticalAlign: 'middle'}, z: 61});
species.forEach((s, r) => {
  const ry = RT + r * RH;
  graphic.push({type: 'text', x: 104, y: ry + 37, style: {text: s, fontFamily: SANS, fontSize: 14, fill: '#1a1a1a', align: 'right', verticalAlign: 'middle'}, z: 61});
  graphic.push({type: 'text', x: 104, y: ry + 63, style: {text: '[μg m{s|-3}]', fontFamily: SANS, fontSize: 14, fill: '#1a1a1a', align: 'right', verticalAlign: 'middle',
    rich: {s: {fontFamily: SANS, fontSize: 9, fill: '#1a1a1a', padding: [0, 1, 9, 1]}}}, z: 61});
});

const chart = echarts.init(document.getElementById('c'), null, {renderer: 'canvas'});
chart.setOption({animation: false, backgroundColor: '#ffffff', grid: grids, xAxis: xAxes, yAxis: yAxes, series: series, graphic: graphic});
</script></body></html>
